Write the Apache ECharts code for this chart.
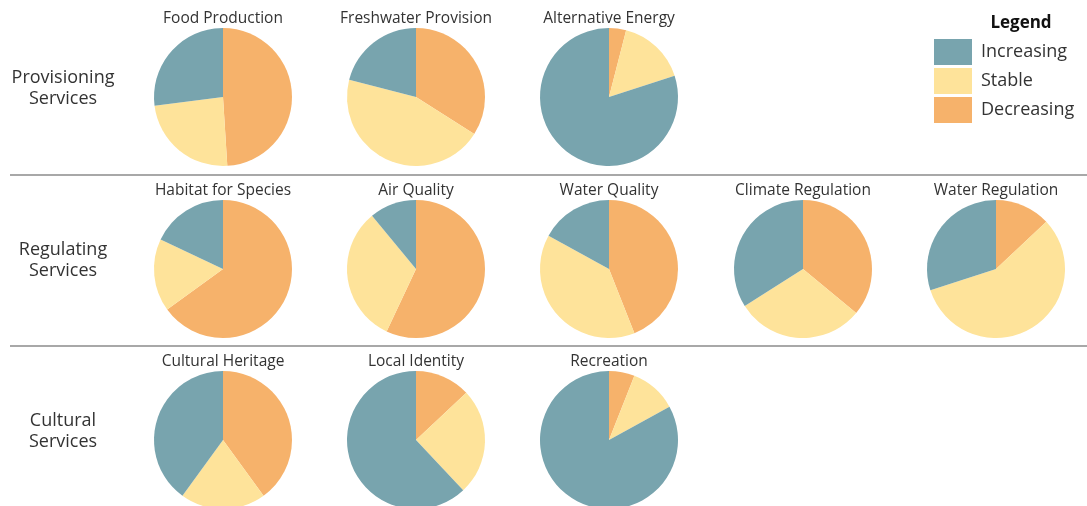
<!DOCTYPE html>
<html>
<head>
<meta charset="utf-8">
<script src="https://cdn.jsdelivr.net/npm/echarts@6/dist/echarts.min.js"></script>
<style>
  html, body { margin: 0; padding: 0; background: #fff; }
  #chart { width: 1087px; height: 506px; }
</style>
</head>
<body>
<div id="chart"></div>
<script>
var chartDom = document.getElementById('chart');
var myChart = echarts.init(chartDom);

// row groups and the services in each
var groups = ['Provisioning\nServices', 'Regulating\nServices', 'Cultural\nServices'];
var services = [
    ['Food Production', 'Freshwater Provision', 'Alternative Energy'],
    ['Habitat for Species', 'Air Quality', 'Water Quality', 'Climate Regulation', 'Water Regulation'],
    ['Cultural Heritage', 'Local Identity', 'Recreation']
];
var trends = ['Increasing', 'Stable', 'Decreasing'];

// shares (%) per service, same order as services
var decreasing = [[49, 34, 4], [65, 57, 44, 36, 13], [40, 13, 6]];
var stable     = [[24, 45, 16], [17, 32, 39, 30, 57], [20, 25, 11]];
var increasing = [[27, 21, 80], [18, 11, 17, 34, 30], [40, 62, 83]];

var colors = { Increasing: '#78a4ae', Stable: '#fee39a', Decreasing: '#f6b26b' };
var font = '"Open Sans", sans-serif';

var colX = [223, 416, 609, 803, 996];
var rowY = [97, 269, 440];
var radius = 69;

var series = [];
var titles = [];
services.forEach(function (row, r) {
    row.forEach(function (name, c) {
        series.push({
            name: name,
            type: 'pie',
            center: [colX[c], rowY[r]],
            radius: radius,
            startAngle: 90,
            clockwise: true,
            label: { show: false },
            labelLine: { show: false },
            emphasis: { disabled: true },
            itemStyle: { borderWidth: 0 },
            data: [
                { name: 'Decreasing', value: decreasing[r][c], itemStyle: { color: colors.Decreasing } },
                { name: 'Stable', value: stable[r][c], itemStyle: { color: colors.Stable } },
                { name: 'Increasing', value: increasing[r][c], itemStyle: { color: colors.Increasing } }
            ]
        });
        titles.push({
            text: name,
            left: colX[c],
            top: rowY[r] - 86,
            textAlign: 'center',
            padding: 0,
            textStyle: { fontFamily: font, fontSize: 15.5, fontWeight: 'normal', color: '#333' }
        });
    });
});

titles.push({
    text: 'Legend',
    left: 1021,
    top: 15,
    textAlign: 'center',
    padding: 0,
    textStyle: { fontFamily: font, fontSize: 17, fontWeight: 'bold', color: '#111' }
});

var graphics = [];
groups.forEach(function (g, r) {
    graphics.push({
        type: 'text',
        x: 63,
        y: rowY[r] - 9,
        style: {
            text: g,
            fontFamily: font,
            fontSize: 18,
            lineHeight: 21,
            fill: '#333',
            align: 'center',
            verticalAlign: 'middle'
        }
    });
});
[175, 346].forEach(function (y) {
    graphics.push({
        type: 'line',
        shape: { x1: 10, y1: y, x2: 1087, y2: y },
        style: { stroke: '#a8a8a8', lineWidth: 2 }
    });
});

var option = {
    animation: false,
    title: titles,
    legend: {
        orient: 'vertical',
        left: 934,
        top: 39,
        padding: 0,
        icon: 'rect',
        itemWidth: 38,
        itemHeight: 26,
        itemGap: 3,
        selectedMode: false,
        data: trends,
        textStyle: { fontFamily: font, fontSize: 18, color: '#333', padding: [0, 0, 0, 4] }
    },
    graphic: graphics,
    series: series
};

myChart.setOption(option);
</script>
</body>
</html>
